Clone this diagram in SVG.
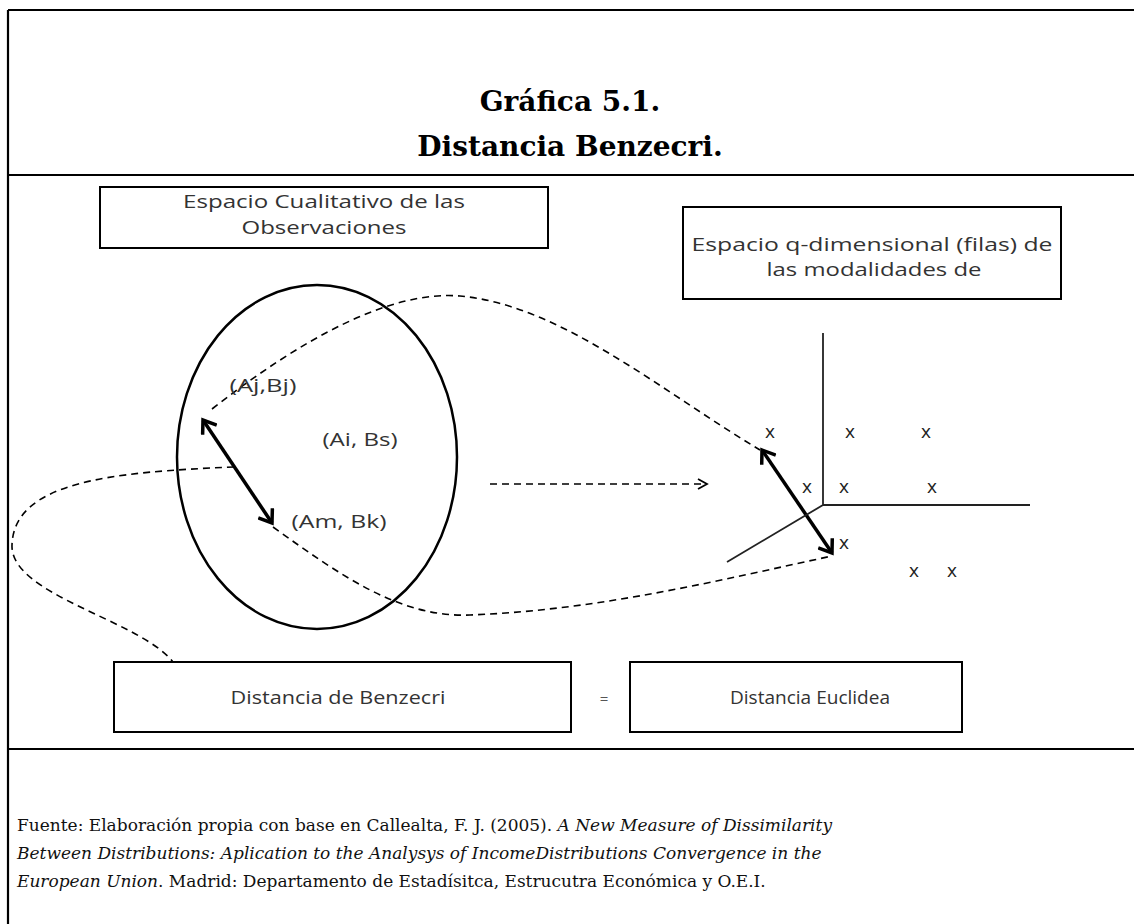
<svg xmlns="http://www.w3.org/2000/svg" width="1134" height="924" viewBox="0 0 1134 924">
<defs>
<style>
.frame{stroke:#000;stroke-width:2.2;fill:none}
.box{fill:#fff;stroke:#000;stroke-width:2}
.lbl{font-family:"Open Sans","Noto Sans",sans-serif;font-size:19px;fill:#333;text-anchor:middle}
.xm{font-family:"Open Sans","Noto Sans",sans-serif;font-size:19px;fill:#222;text-anchor:middle}
.title{font-family:"DejaVu Serif","Liberation Serif",serif;font-weight:bold;font-size:28px;fill:#000;text-anchor:middle}
.foot{font-family:"DejaVu Serif","Liberation Serif",serif;font-size:17px;fill:#111}
.dash{fill:none;stroke:#000;stroke-width:1.6;stroke-dasharray:7 5}
.thick{fill:none;stroke:#000;stroke-width:3.5}
.axis{fill:none;stroke:#222;stroke-width:1.8}
</style>
<marker id="ah" viewBox="0 0 20 20" markerUnits="userSpaceOnUse" markerWidth="20" markerHeight="20" refX="17" refY="10" orient="auto-start-reverse">
<path d="M5,1.5 L17,10 L5,18.5" fill="none" stroke="#000" stroke-width="3.5"/>
</marker>
<marker id="ahs" viewBox="0 0 14 14" markerUnits="userSpaceOnUse" markerWidth="14" markerHeight="14" refX="12" refY="7" orient="auto">
<path d="M3,2 L12,7 L3,12" fill="none" stroke="#000" stroke-width="1.8"/>
</marker>
</defs>

<g id="frame">
<path class="frame" d="M8,10 H1134 M8,10 V924 M8,175 H1134 M8,749 H1134"/>
</g>

<g id="title">
<text class="title" x="570" y="111">Gráfica 5.1.</text>
<text class="title" x="570" y="156">Distancia Benzecri.</text>
</g>

<g id="connectors">
<path class="dash" d="M212,409 C300,340 390,290 460,296 C560,305 660,390 760,450"/>
<path class="dash" d="M273,527 C340,575 400,618 470,615 C600,610 720,580 832,556"/>
<path class="dash" d="M234,467 C110,472 14,482 12,545 C10,595 140,620 173,662"/>
<line class="dash" x1="490" y1="484" x2="707" y2="484" marker-end="url(#ahs)"/>
<line class="thick" x1="203" y1="420" x2="272" y2="523" marker-start="url(#ah)" marker-end="url(#ah)"/>
<line class="thick" x1="762" y1="450" x2="832" y2="553" marker-start="url(#ah)" marker-end="url(#ah)"/>
</g>

<g id="espacio-cualitativo">
<rect class="box" x="100" y="187" width="448" height="61"/>
<text class="lbl" x="324" y="208" textLength="282" lengthAdjust="spacingAndGlyphs">Espacio Cualitativo de las</text>
<text class="lbl" x="324" y="234" textLength="165" lengthAdjust="spacingAndGlyphs">Observaciones</text>
</g>

<g id="espacio-q">
<rect class="box" x="683" y="207" width="378" height="92"/>
<text class="lbl" x="872" y="251" textLength="361" lengthAdjust="spacingAndGlyphs">Espacio q-dimensional (filas) de</text>
<text class="lbl" x="874" y="276" textLength="215" lengthAdjust="spacingAndGlyphs">las modalidades de</text>
</g>

<g id="observaciones">
<ellipse cx="317" cy="457" rx="140" ry="172" fill="none" stroke="#000" stroke-width="2.5"/>
<text class="lbl" x="263" y="392" textLength="67" lengthAdjust="spacingAndGlyphs">(Aj,Bj)</text>
<text class="lbl" x="360" y="446" textLength="75" lengthAdjust="spacingAndGlyphs">(Ai, Bs)</text>
<text class="lbl" x="339" y="528" textLength="95" lengthAdjust="spacingAndGlyphs">(Am, Bk)</text>
</g>

<g id="espacio-ejes">
<path class="axis" d="M823,333 V505 H1030 M823,505 L727,562"/>
<text class="xm" x="770" y="438">x</text>
<text class="xm" x="850" y="438">x</text>
<text class="xm" x="926" y="438">x</text>
<text class="xm" x="807" y="493">x</text>
<text class="xm" x="844" y="493">x</text>
<text class="xm" x="932" y="493">x</text>
<text class="xm" x="844" y="549">x</text>
<text class="xm" x="914" y="577">x</text>
<text class="xm" x="952" y="577">x</text>
</g>

<g id="distancia-benzecri">
<rect class="box" x="114" y="662" width="457" height="70"/>
<text class="lbl" x="338" y="704" textLength="215" lengthAdjust="spacingAndGlyphs">Distancia de Benzecri</text>
</g>

<g id="igual">
<text class="lbl" x="604" y="704" style="font-size:15px;fill:#555">=</text>
</g>

<g id="distancia-euclidea">
<rect class="box" x="630" y="662" width="332" height="70"/>
<text class="lbl" x="810" y="704" textLength="160" lengthAdjust="spacingAndGlyphs">Distancia Euclidea</text>
</g>

<g id="fuente">
<text class="foot" x="17" y="831">Fuente: Elaboración propia con base en Callealta, F. J. (2005). <tspan font-style="italic">A New Measure of Dissimilarity</tspan></text>
<text class="foot" x="17" y="859"><tspan font-style="italic">Between Distributions: Aplication to the Analysys of IncomeDistributions Convergence in the</tspan></text>
<text class="foot" x="17" y="887"><tspan font-style="italic">European Union</tspan>. Madrid: Departamento de Estadísitca, Estrucutra Económica y O.E.I.</text>
</g>
</svg>
